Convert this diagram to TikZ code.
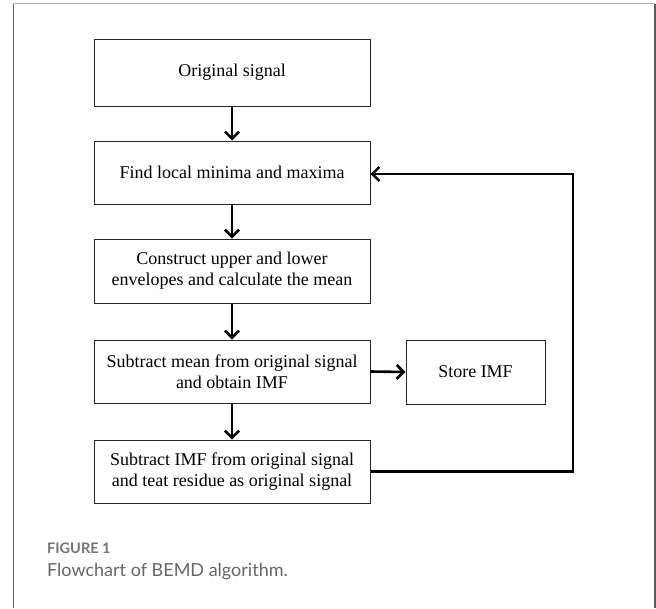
\documentclass[tikz,border=0pt]{standalone}
\usepackage{fontspec}
\setmainfont{Liberation Serif}
\newfontfamily\capfont{Lato}
\usetikzlibrary{arrows.meta}
\begin{document}
\begin{tikzpicture}[x=1pt,y=-1pt,
  box/.style={draw=black!85, line width=1pt, rectangle, inner sep=0pt, minimum width=276pt, minimum height=63pt, align=center, font=\fontsize{18}{21}\selectfont},
  arr/.style={line width=2.6pt, -{Straight Barb[length=7pt,width=14pt,line width=2.6pt]}},
  conn/.style={line width=2.6pt}
]
\useasboundingbox (0,0) rectangle (656,608);
% outer frame
\draw[black!30, line width=1.2pt] (13,3.5) -- (655,3.5);
\draw[black!60, line width=1pt] (13,3.5) -- (13,608);
\draw[black!65, line width=1.3pt] (655,3.5) -- (655,608);

\node[box, minimum height=67pt] (b1) at (232,72.5) {Original signal};
\node[box] (b2) at (232,172.5) {Find local minima and maxima};
\node[box, minimum height=64pt] (b3) at (232,271) {Construct upper and lower\\envelopes and calculate the mean};
\node[box] (b4) at (232,371.5) {Subtract mean from original signal\\and obtain IMF};
\node[box] (b5) at (232,471.5) {Subtract IMF from original signal\\and teat residue as original signal};
\node[box, minimum width=139pt, minimum height=64pt] (s) at (475.5,372) {Store IMF};

\draw[arr] (b1.south) -- (b2.north);
\draw[arr] (b2.south) -- (b3.north);
\draw[arr] (b3.south) -- (b4.north);
\draw[arr] (b4.south) -- (b5.north);
\draw[arr] (b4.east) -- (s.west);
\coordinate (c1) at (573,471.5);
\coordinate (c2) at (573,174);
\draw[conn, line join=miter] (b5.east) -- (c1) -- (c2) -- (c2 -| b2.east);
\draw[arr] (c2) -- (c2 -| b2.east);

\node[anchor=base west, inner sep=0pt, font=\capfont\bfseries\fontsize{14.5}{16}\selectfont, text=black!55] (f1) at (47,553) {FIGURE 1};
\node[anchor=base west, inner sep=0pt, font=\capfont\fontsize{18}{21}\selectfont, text=black!60] (f2) at (47,576) {Flowchart of BEMD algorithm.};
\end{tikzpicture}
\end{document}
